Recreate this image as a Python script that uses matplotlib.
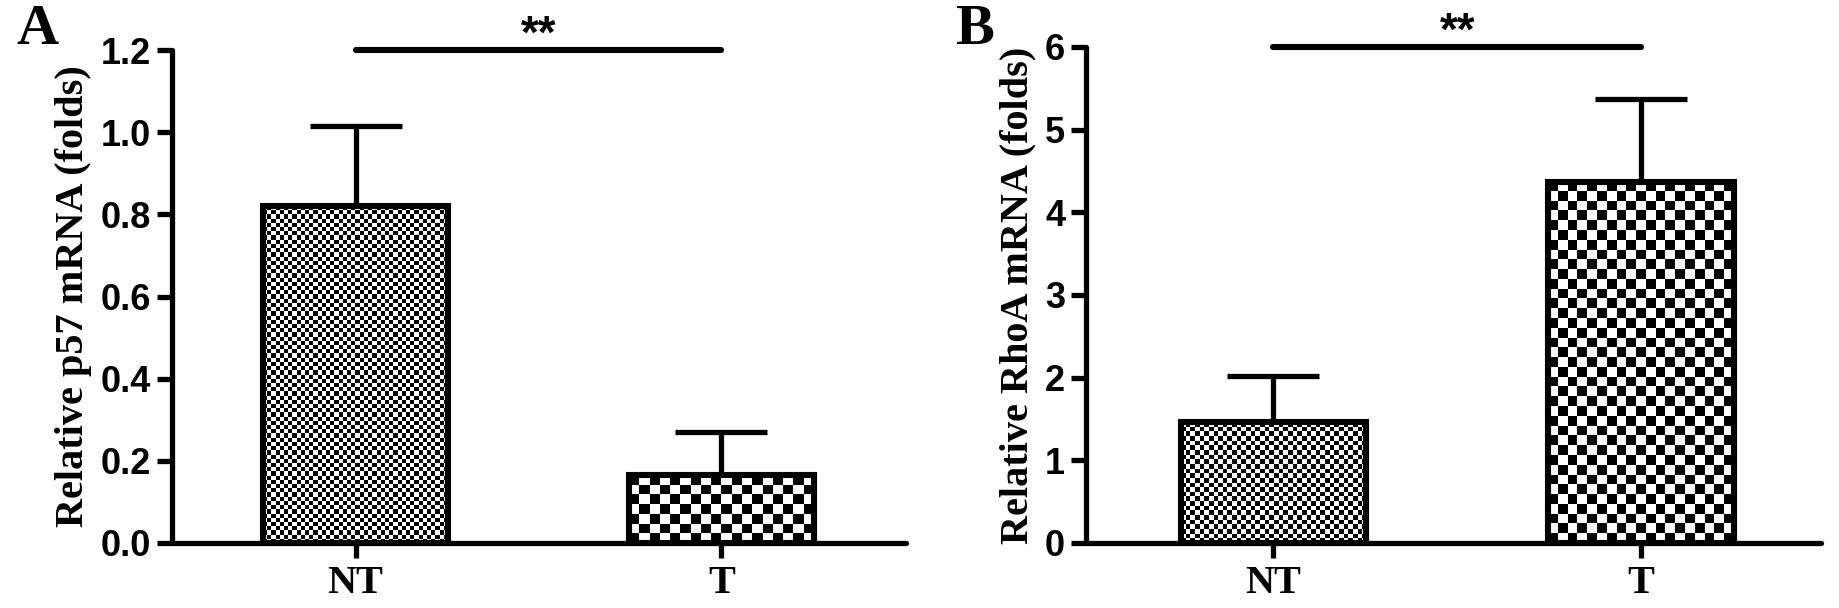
import numpy as np
import matplotlib
matplotlib.use("Agg")
import matplotlib.pyplot as plt

# data
groups = ["NT", "T"]
p57_mean = [0.82, 0.165]
p57_err = [0.195, 0.105]
rhoa_mean = [1.46, 4.37]
rhoa_err = [0.56, 1.0]

p57_ticks = [0.0, 0.2, 0.4, 0.6, 0.8, 1.0, 1.2]
rhoa_ticks = [0, 1, 2, 3, 4, 5, 6]

fig = plt.figure(figsize=(18.4, 6.08), dpi=100)
W, H = 1840, 608

LW = 3.8
serif = ["Liberation Serif", "DejaVu Serif"]
sans = ["Liberation Sans", "DejaVu Sans"]


def checker(ax, x0, x1, h, cell_px):
    # checkerboard fill in the bar area, cell size in pixels
    p0 = ax.transData.transform((x0, 0))
    p1 = ax.transData.transform((x1, h))
    nx = max(1, int(round(abs(p1[0] - p0[0]) / cell_px)))
    ny = max(1, int(round(abs(p1[1] - p0[1]) / cell_px)))
    yy, xx = np.mgrid[0:ny, 0:nx]
    img = ((xx + yy) % 2).astype(float)
    ax.imshow(img, extent=(x0, x1, 0, h), cmap="gray", vmin=0, vmax=1,
              interpolation="nearest", aspect="auto", zorder=2, origin="lower")


def panel(rect, means, errs, ticks, ylim, xlim, cells, ylabel, letter, letter_xy, sig_y):
    ax = fig.add_axes(rect)
    x = np.arange(len(groups))
    ax.set_xlim(*xlim)
    ax.set_ylim(*ylim)
    width = 0.505
    bars = ax.bar(x, means, width=width, facecolor="none", edgecolor="black",
                  linewidth=LW + 0.6, zorder=3)
    for b, c in zip(bars, cells):
        checker(ax, b.get_x(), b.get_x() + b.get_width(), b.get_height(), c)
    ax.set_xlim(*xlim)
    ax.set_ylim(*ylim)
    ax.errorbar(x, means, yerr=[np.zeros(len(errs)), errs], fmt="none",
                ecolor="black", elinewidth=LW, capsize=33, capthick=LW, zorder=1)
    for s in ["top", "right"]:
        ax.spines[s].set_visible(False)
    for s in ["left", "bottom"]:
        ax.spines[s].set_linewidth(LW)
        ax.spines[s].set_capstyle("round")
    ax.set_xticks(x)
    ax.set_xticklabels(groups, fontfamily=serif, fontweight="bold", fontsize=29)
    ax.set_yticks(ticks)
    ax.set_yticklabels([str(t) for t in ticks], fontfamily=sans, fontweight="bold", fontsize=26)
    ax.tick_params(axis="both", width=LW, length=11, direction="out")
    ax.tick_params(axis="x", pad=5)
    ax.tick_params(axis="y", pad=4)
    ax.set_ylabel(ylabel, fontfamily=serif, fontweight="bold", fontsize=29, labelpad=6)
    # significance bar
    ax.plot([x[0], x[1]], [sig_y, sig_y], color="black", lw=LW + 0.6,
            solid_capstyle="round", clip_on=False, zorder=4)
    ax.annotate("**", ((x[0] + x[1]) / 2, sig_y), xytext=(0, 2), textcoords="offset points",
                ha="center", va="baseline", fontfamily=sans, fontweight="bold", fontsize=33,
                annotation_clip=False)
    fig.text(letter_xy[0], letter_xy[1], letter, fontfamily=serif, fontweight="bold",
             fontsize=42, ha="center", va="center")
    return ax


panel([172 / W, 1 - 543 / H, (906 - 172) / W, (543 - 50) / H],
      p57_mean, p57_err, p57_ticks, (0, 1.2), (-0.502, 1.505), (4.2, 10),
      "Relative p57 mRNA (folds)", "A", (37 / W, 1 - 30 / H), 1.2)

panel([1086 / W, 1 - 543 / H, (1821 - 1086) / W, (543 - 47) / H],
      rhoa_mean, rhoa_err, rhoa_ticks, (0, 6), (-0.51, 1.49), (4.6, 9.8),
      "Relative RhoA mRNA (folds)", "B", (975 / W, 1 - 30 / H), 6.0)

fig.savefig("out.png", dpi=100)
